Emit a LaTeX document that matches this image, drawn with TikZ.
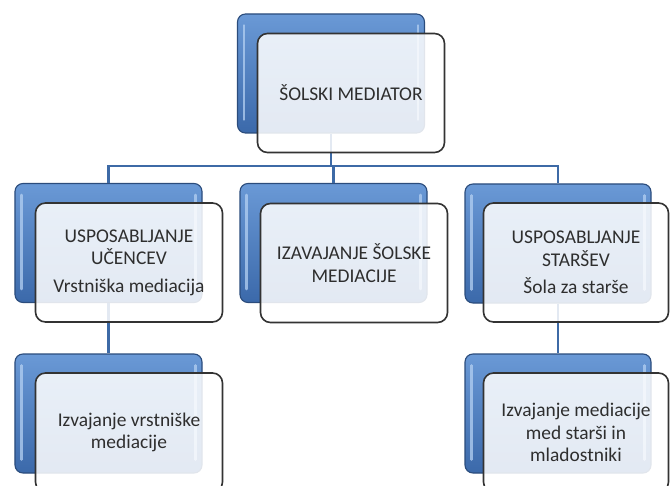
\documentclass[tikz,border=0pt]{standalone}
\usepackage{fontspec}
\setmainfont{Carlito}
\definecolor{boxtop}{HTML}{6A99D6}
\definecolor{boxbot}{HTML}{3B69AA}
\definecolor{boxedge}{HTML}{2B4C7C}
\definecolor{lineblue}{HTML}{3D6AA6}
\definecolor{frontedge}{HTML}{333333}
\definecolor{txt}{HTML}{2E2E2E}
\definecolor{glosscol}{HTML}{B4D0F2}
\tikzset{
  backbox/.style={draw=boxedge, line width=1.1bp, rounded corners=8bp,
    top color=boxtop, bottom color=boxbot,
    minimum width=187bp, minimum height=119bp, inner sep=0pt},
  frontbox/.style={draw=frontedge, line width=1.6bp, rounded corners=10bp,
    fill=white, fill opacity=0.86, text opacity=1,
    minimum width=187bp, minimum height=119bp, inner sep=2bp,
    align=center, text=txt, font=\fontsize{19.5}{22.5}\selectfont},
  link/.style={draw=lineblue, line width=2.8bp},
  gloss/.style={draw=glosscol, line width=2.6bp, line cap=round, opacity=0.75},
}
\newcommand\glossy[1]{%
  \draw[gloss] ([xshift=7bp,yshift=-12bp]#1.north west) -- ([xshift=7bp,yshift=14bp]#1.south west);
  \draw[gloss] ([xshift=-7bp,yshift=-12bp]#1.north east) -- ([xshift=-7bp,yshift=14bp]#1.south east);}
\begin{document}
\begin{tikzpicture}[x=1bp,y=-1bp]
\clip (0,0) rectangle (670,486);
\fill[white] (0,0) rectangle (670,486);
% back boxes
\path
  (331,73.5) node[backbox] (b0) {}
  (108.5,243) node[backbox] (b1) {}
  (333.5,243) node[backbox] (b2) {}
  (558,243.5) node[backbox, minimum width=186bp] (b3) {}
  (108.5,413.5) node[backbox] (b4) {}
  (558,413.5) node[backbox, minimum width=186bp] (b5) {};
\foreach \n in {b0,b1,b2,b3,b4,b5} {\glossy{\n}}
% connectors
\coordinate (hl) at (108.5,166);
\coordinate (hr) at (558,166);
\draw[link] (b0.south) -- (b0.south |- hl);
\draw[link] (b1.north) -- (hl) -- (hr) -- (b3.north);
\draw[link] (b2.north) -- (b2.north |- hl);
\draw[link] (b1.south) -- (b4.north);
\draw[link] (b3.south) -- (b5.north);
% front boxes with text
\node[frontbox] (f0) at (351,93) {ŠOLSKI MEDIATOR};
\node[frontbox] (f1) at (129,262.5) {USPOSABLJANJE\\UČENCEV\\[5bp]Vrstniška mediacija};
\node[frontbox] (f2) at (354,263) {IZAVAJANJE ŠOLSKE\\MEDIACIJE};
\node[frontbox, minimum width=185bp] (f3) at (576,262.5) {USPOSABLJANJE\\STARŠEV\\[5bp]Šola za starše};
\node[frontbox] (f4) at (129,432.5) {Izvajanje vrstniške\\mediacije};
\node[frontbox, minimum width=185bp] (f5) at (576,432.5) {Izvajanje mediacije\\med starši in\\mladostniki};
\end{tikzpicture}
\end{document}
